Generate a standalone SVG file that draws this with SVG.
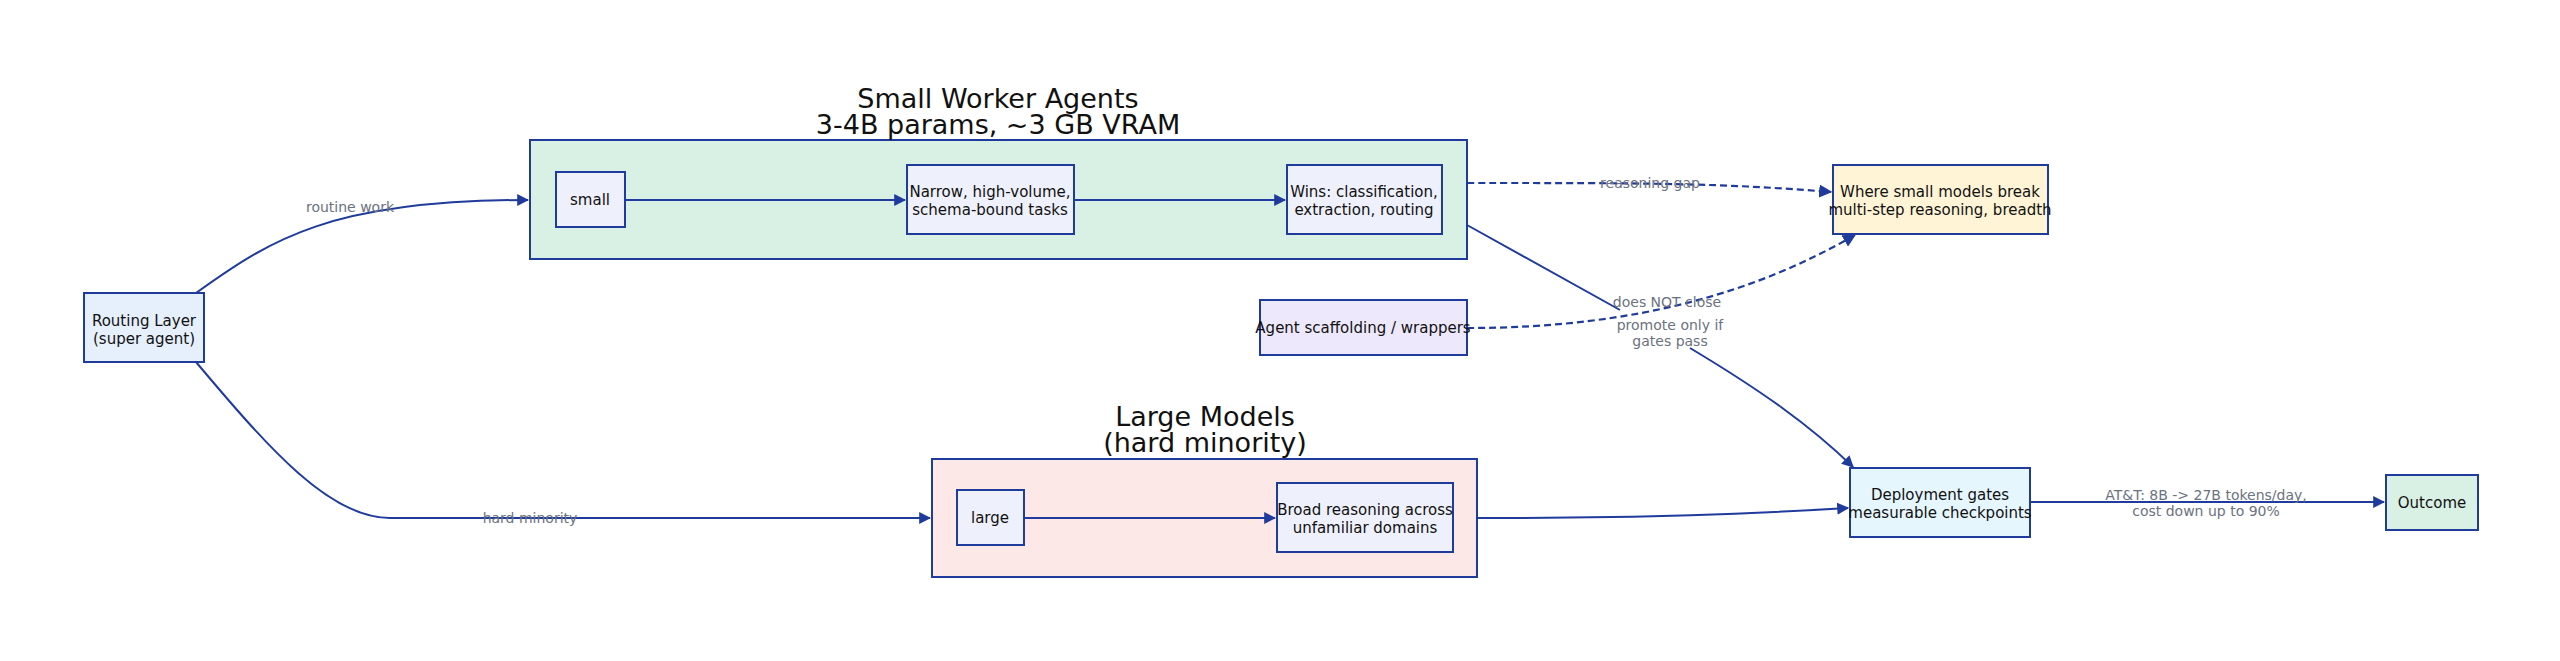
<svg xmlns="http://www.w3.org/2000/svg" width="2560" height="661" viewBox="0 0 2560 661">
<style>
text{font-family:"DejaVu Sans",sans-serif;text-anchor:middle}
.n{stroke:#1f3b9b;stroke-width:2}
.t{font-size:15px;fill:#111}
.ct{font-size:27px;fill:#111}
.e{fill:none;stroke:#1f3b9b;stroke-width:2}
.d{stroke-dasharray:7 4;stroke-width:2.2}
.l{font-size:14px;fill:#6b7280}
.bg{fill:#fff}
</style>
<defs><marker id="a" viewBox="0 0 10 10" refX="9" refY="5" markerWidth="6" markerHeight="6" orient="auto"><path d="M0,0L10,5L0,10z" fill="#1f3b9b"/></marker></defs>
<rect width="2560" height="661" fill="#fff"/>
<g id="cluster-small"><rect class="n" x="530" y="140" width="937" height="119" fill="#d9f0e5"/><text class="ct" x="998" y="108">Small Worker Agents</text><text class="ct" x="998" y="134">3-4B params, ~3 GB VRAM</text></g>
<g id="cluster-large"><rect class="n" x="932" y="459" width="545" height="118" fill="#fde8e8"/><text class="ct" x="1205" y="426">Large Models</text><text class="ct" x="1205" y="452">(hard minority)</text></g>
<g id="edges">
<path class="e" d="M196,293C270,240 330,200 528,200" marker-end="url(#a)"/>
<path class="e" d="M196,362C270,450 330,518 390,518L930,518" marker-end="url(#a)"/>
<path class="e" d="M625,200L905,200" marker-end="url(#a)"/>
<path class="e" d="M1074,200L1285,200" marker-end="url(#a)"/>
<path class="e d" d="M1467,183C1650,183 1720,183 1831,192" marker-end="url(#a)"/>
<path class="e d" d="M1467,328C1640,328 1760,290 1855,235" marker-end="url(#a)"/>
<path class="e" d="M1467,225L1620,310M1690,348C1760,390 1810,425 1853,467" marker-end="url(#a)"/>
<path class="e" d="M1024,518L1275,518" marker-end="url(#a)"/>
<path class="e" d="M1477,518C1650,518 1750,514 1848,508" marker-end="url(#a)"/>
<path class="e" d="M2030,502L2384,502" stroke-width="3" marker-end="url(#a)"/>
<text class="l" x="350" y="212">routine work</text>
<text class="l" x="530" y="523">hard minority</text>
<text class="l" x="1650" y="188">reasoning gap</text>
<text class="l" x="1667" y="307">does NOT close</text>
<text class="l" x="1670" y="330">promote only if</text>
<text class="l" x="1670" y="346">gates pass</text>
<text class="l" x="2206" y="500">AT&amp;T: 8B -&gt; 27B tokens/day,</text>
<text class="l" x="2206" y="516">cost down up to 90%</text>
</g>
<g id="routing"><rect class="n" x="84" y="293" width="120" height="69" fill="#e6effc"/><text class="t" x="144" y="326">Routing Layer</text><text class="t" x="144" y="344">(super agent)</text></g>
<g id="small"><rect class="n" x="556" y="172" width="69" height="55" fill="#eef0fc"/><text class="t" x="590" y="205">small</text></g>
<g id="narrow"><rect class="n" x="907" y="165" width="167" height="69" fill="#eef0fc"/><text class="t" x="990" y="197">Narrow, high-volume,</text><text class="t" x="990" y="215">schema-bound tasks</text></g>
<g id="wins"><rect class="n" x="1287" y="165" width="155" height="69" fill="#eef0fc"/><text class="t" x="1364" y="197">Wins: classification,</text><text class="t" x="1364" y="215">extraction, routing</text></g>
<g id="where"><rect class="n" x="1833" y="165" width="215" height="69" fill="#fff4d6"/><text class="t" x="1940" y="197">Where small models break</text><text class="t" x="1940" y="215">multi-step reasoning, breadth</text></g>
<g id="scaffold"><rect class="n" x="1260" y="300" width="207" height="55" fill="#ede8fc"/><text class="t" x="1363" y="333">Agent scaffolding / wrappers</text></g>
<g id="large"><rect class="n" x="957" y="490" width="67" height="55" fill="#eef0fc"/><text class="t" x="990" y="523">large</text></g>
<g id="broad"><rect class="n" x="1277" y="483" width="176" height="69" fill="#eef0fc"/><text class="t" x="1365" y="515">Broad reasoning across</text><text class="t" x="1365" y="533">unfamiliar domains</text></g>
<g id="deploy"><rect class="n" x="1850" y="468" width="180" height="69" fill="#e6f6fd"/><text class="t" x="1940" y="500">Deployment gates</text><text class="t" x="1940" y="518">measurable checkpoints</text></g>
<g id="outcome"><rect class="n" x="2386" y="475" width="92" height="55" fill="#d9f0e5"/><text class="t" x="2432" y="508">Outcome</text></g>
</svg>
